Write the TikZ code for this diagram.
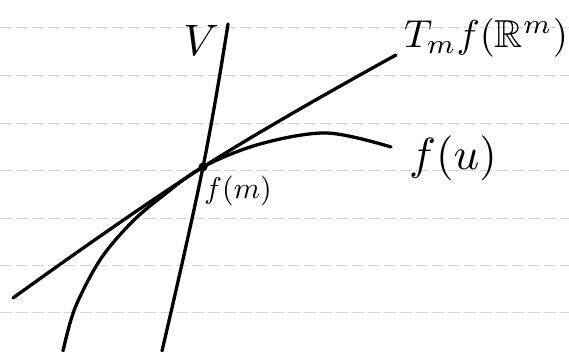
\documentclass[tikz,border=0pt]{standalone}
\usepackage{amssymb}
\begin{document}
\begin{tikzpicture}[x=1pt,y=-1pt,
  curve/.style={line width=3.3pt,line cap=round,line join=round},
  rule/.style={black!16,line width=1pt,dash pattern=on 12pt off 4pt},
  lbl/.style={inner sep=0pt}]
\useasboundingbox (0,0) rectangle (569,351);
% ruled paper lines
\foreach \yy in {27,75,123,170,218,265,312}
  \draw[rule] (0,\yy) -- (569,\yy);
% point f(m)
\coordinate (fm) at (203,167);
% the curve V
\draw[curve] plot[smooth,tension=0.7] coordinates {(228,24) (203,167) (162,351)};
% tangent space T_m f(R^m)
\draw[curve] plot[smooth,tension=0.7] coordinates {(13,298) (203,167) (396,55)};
% image f(u)
\draw[curve] plot[smooth,tension=0.55] coordinates {(63,351) (75,308) (100,260) (130,224) (160,198) (203,167) (260,144) (327,133) (391,147)};
\fill (fm) circle (4.5pt);
% labels
\node[lbl,scale=4.4] (lV) at (201,40) {$V$};
\node[lbl,scale=3.9] (lT) at (486,38) {$T_m f(\mathbb{R}^m)$};
\node[lbl,scale=4.5] (lfu) at (453,158) {$f(u)$};
\node[lbl,scale=3.0] (lfm) at (238,191) {$f(m)$};
\end{tikzpicture}
\end{document}
